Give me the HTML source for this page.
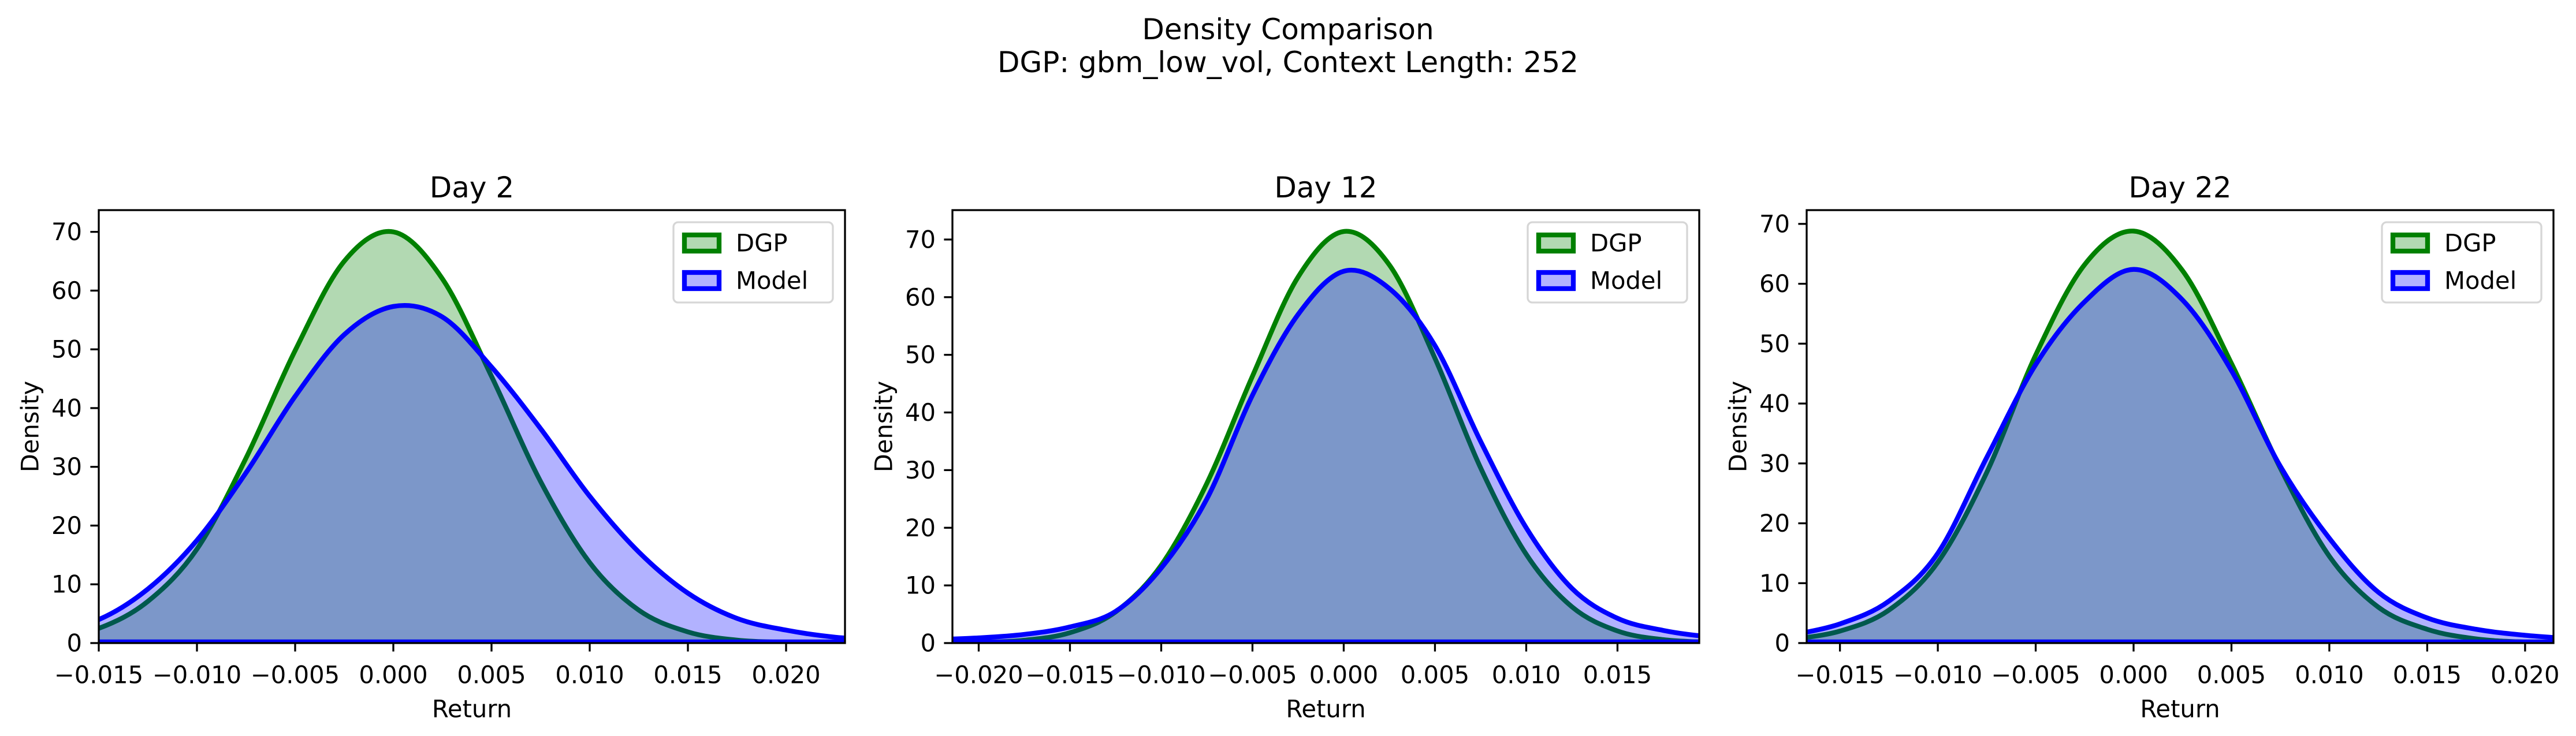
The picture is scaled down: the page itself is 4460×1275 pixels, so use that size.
<!DOCTYPE html>
<html>
<head>
<meta charset="utf-8">
<style>
  html, body { margin: 0; padding: 0; background: #ffffff; }
  svg { display: block; font-family: "DejaVu Sans", "Liberation Sans", sans-serif; }
</style>
</head>
<body>
<svg id="fig" xmlns="http://www.w3.org/2000/svg" width="4460" height="1275" viewBox="0 0 4460 1275">
  <rect x="0" y="0" width="4460" height="1275" fill="#ffffff"/>
  <text x="2230" y="51" font-size="50" text-anchor="middle" dominant-baseline="central">Density Comparison</text>
  <text x="2230" y="108" font-size="50" text-anchor="middle" dominant-baseline="central">DGP: gbm_low_vol, Context Length: 252</text>
</svg>
<script>
// ---- Data ----
const panelTitles = ["Day 2", "Day 12", "Day 22"];

const p1X = [-0.0175,-0.015,-0.0125,-0.01,-0.0075,-0.005,-0.0025,0,0.0025,0.005,0.0075,0.01,0.0125,0.015,0.0175,0.02,0.0225,0.025];
const p1Dgp = [0.7,2.5,7.1,16.0,31.5,49.8,65,70,62,45.4,27.5,13.7,5.6,1.9,0.5,0.12,0.02,0.0];
const p1Model = [2.0,4.0,9.2,17.5,29,42,52.5,57.3,55.5,47,36.5,25,15.5,8.5,4.2,2.2,1.0,0.5];

const p2X = [-0.0225,-0.02,-0.0175,-0.015,-0.0125,-0.01,-0.0075,-0.005,-0.0025,0,0.0025,0.005,0.0075,0.01,0.0125,0.015,0.0175,0.02,0.0225];
const p2Dgp = [0.02,0.1,0.5,1.8,5.4,13.5,27.7,46.3,63.5,71.4,65.6,49.4,30.4,15.4,6.3,2.1,0.6,0.15,0.03];
const p2Model = [0.6,0.9,1.5,2.8,5.5,13,25,43,57,64.5,61.5,51.6,35,20,9.5,4.3,2.2,1.1,0.7];

const p3X = [-0.0175,-0.015,-0.0125,-0.01,-0.0075,-0.005,-0.0025,0,0.0025,0.005,0.0075,0.01,0.0125,0.015,0.0175,0.02,0.0225];
const p3Dgp = [0.6,2.0,5.5,13.5,28.5,48.1,63.2,68.8,62.2,46.7,29.2,14.5,6.0,2.3,0.7,0.17,0.04];
const p3Model = [1.3,3.2,7.0,15.0,31,46.5,57,62.4,57.3,45.5,29.5,17.5,8.5,4.2,2.3,1.3,0.7];

const p1XTicks = [-0.015,-0.010,-0.005,0.000,0.005,0.010,0.015,0.020];
const p2XTicks = [-0.020,-0.015,-0.010,-0.005,0.000,0.005,0.010,0.015];
const p3XTicks = [-0.015,-0.010,-0.005,0.000,0.005,0.010,0.015,0.020];
const yTicks = [0,10,20,30,40,50,60,70];

const p1XLim = [-0.015, 0.023];
const p2XLim = [-0.02144, 0.01948];
const p3XLim = [-0.0167, 0.02145];
const p1YMax = 73.7;
const p2YMax = 75.1;
const p3YMax = 72.3;

const legendLabels = ["DGP", "Model"];

// ---- Layout ----
const NS = "http://www.w3.org/2000/svg";
const svg = document.getElementById("fig");
const TOP = 364, BOTTOM = 1114;
const panels = [
  {left:171, right:1463, xs:p1X, dgp:p1Dgp, model:p1Model, ticks:p1XTicks, xlim:p1XLim, ymax:p1YMax},
  {left:1649, right:2942, xs:p2X, dgp:p2Dgp, model:p2Model, ticks:p2XTicks, xlim:p2XLim, ymax:p2YMax},
  {left:3128, right:4421, xs:p3X, dgp:p3Dgp, model:p3Model, ticks:p3XTicks, xlim:p3XLim, ymax:p3YMax}
];

function mk(tag, attrs, parent) {
  const e = document.createElementNS(NS, tag);
  for (const k in attrs) e.setAttribute(k, attrs[k]);
  (parent || svg).appendChild(e);
  return e;
}
function fmtTick(v) {
  const s = Math.abs(v).toFixed(3);
  return (v < -1e-12 ? "\u2212" : "") + s;
}
function smoothPath(pts) {
  let d = "M" + pts[0][0].toFixed(2) + "," + pts[0][1].toFixed(2);
  for (let i = 0; i < pts.length - 1; i++) {
    const p0 = pts[i - 1] || pts[i], p1 = pts[i], p2 = pts[i + 1], p3 = pts[i + 2] || pts[i + 1];
    const c1x = p1[0] + (p2[0] - p0[0]) / 6, c1y = p1[1] + (p2[1] - p0[1]) / 6;
    const c2x = p2[0] - (p3[0] - p1[0]) / 6, c2y = p2[1] - (p3[1] - p1[1]) / 6;
    d += " C" + c1x.toFixed(2) + "," + c1y.toFixed(2) + " " + c2x.toFixed(2) + "," + c2y.toFixed(2) + " " + p2[0].toFixed(2) + "," + p2[1].toFixed(2);
  }
  return d;
}

panels.forEach((p, i) => {
  const xScale = v => p.left + (v - p.xlim[0]) / (p.xlim[1] - p.xlim[0]) * (p.right - p.left);
  const yScale = v => BOTTOM - v / p.ymax * (BOTTOM - TOP);

  const g = mk("g", {});
  
  

  const clipId = "clip" + i;
  const cp = mk("clipPath", {id: clipId}, g);
  mk("rect", {x: p.left, y: TOP, width: p.right - p.left, height: BOTTOM - TOP}, cp);

  const plot = mk("g", {"clip-path": "url(#" + clipId + ")"}, g);
  
  

  const series = [
    {vals: p.dgp, fill: "rgba(0,128,0,0.3)", stroke: "#008000", name: "dgp"},
    {vals: p.model, fill: "rgba(0,0,255,0.3)", stroke: "#0000ff", name: "model"}
  ];
  series.forEach(s => {
    const pts = p.xs.map((x, k) => [xScale(x), yScale(s.vals[k])]);
    const curve = smoothPath(pts);
    const x0 = pts[0][0], x1 = pts[pts.length - 1][0], y0 = yScale(0);
    const area = mk("path", {d: curve + " L" + x1 + "," + y0 + " L" + x0 + "," + y0 + " Z", fill: s.fill, stroke: "none"}, plot);
    
    
    const base = mk("line", {x1: x0, x2: x1, y1: y0 - 2, y2: y0 - 2, stroke: s.stroke, "stroke-width": 8.3}, plot);
    
    
    const line = mk("path", {d: curve, fill: "none", stroke: s.stroke, "stroke-width": 8.3, "stroke-linejoin": "round", "stroke-linecap": "butt"}, plot);
    
    
  });

  const frame = mk("rect", {x: p.left, y: TOP, width: p.right - p.left, height: BOTTOM - TOP, fill: "none", stroke: "#000", "stroke-width": 3.3}, g);
  
  

  p.ticks.forEach(t => {
    const x = xScale(t);
    const tk = mk("line", {x1: x, x2: x, y1: BOTTOM, y2: BOTTOM + 14.6, stroke: "#000", "stroke-width": 3.3}, g);
    
    
    const lb = mk("text", {x: x, y: 1169, "font-size": 41.7, "text-anchor": "middle", "dominant-baseline": "central"}, g);
    lb.textContent = fmtTick(t);
    
    
  });
  yTicks.forEach(t => {
    const y = yScale(t);
    const tk = mk("line", {x1: p.left - 14.6, x2: p.left, y1: y, y2: y, stroke: "#000", "stroke-width": 3.3}, g);
    
    
    const lb = mk("text", {x: p.left - 29, y: y, "font-size": 41.7, "text-anchor": "end", "dominant-baseline": "central"}, g);
    lb.textContent = String(t);
    
    
  });

  const title = mk("text", {x: (p.left + p.right) / 2, y: 325, "font-size": 50, "text-anchor": "middle", "dominant-baseline": "central"}, g);
  title.textContent = panelTitles[i];
  
  

  const xl = mk("text", {x: (p.left + p.right) / 2, y: 1228, "font-size": 41.7, "text-anchor": "middle", "dominant-baseline": "central"}, g);
  xl.textContent = "Return";
  
  

  const ylx = p.left - 119, yly = (TOP + BOTTOM) / 2;
  const yl = mk("text", {x: ylx, y: yly, "font-size": 41.7, "text-anchor": "middle", "dominant-baseline": "central", transform: "rotate(-90 " + ylx + " " + yly + ")"}, g);
  yl.textContent = "Density";
  
  

  const lg = mk("g", {}, g);
  
  
  const lx = p.right - 21 - 276, ly = TOP + 21;
  mk("rect", {x: lx, y: ly, width: 276, height: 139, rx: 8, fill: "rgba(255,255,255,0.8)", stroke: "#d6d6d6", "stroke-width": 3.3}, lg);
  const cols = [["rgba(0,128,0,0.3)", "#008000"], ["rgba(0,0,255,0.3)", "#0000ff"]];
  legendLabels.forEach((lab, k) => {
    const cy = ly + 36 + k * 65;
    const entry = mk("g", {}, lg);
    
    
    mk("rect", {x: lx + 19, y: cy - 14, width: 60, height: 28, fill: cols[k][0], stroke: cols[k][1], "stroke-width": 8.3}, entry);
    const t = mk("text", {x: lx + 108, y: cy, "font-size": 41.7, "dominant-baseline": "central"}, entry);
    t.textContent = lab;
  });
});
</script>
</body>
</html>
